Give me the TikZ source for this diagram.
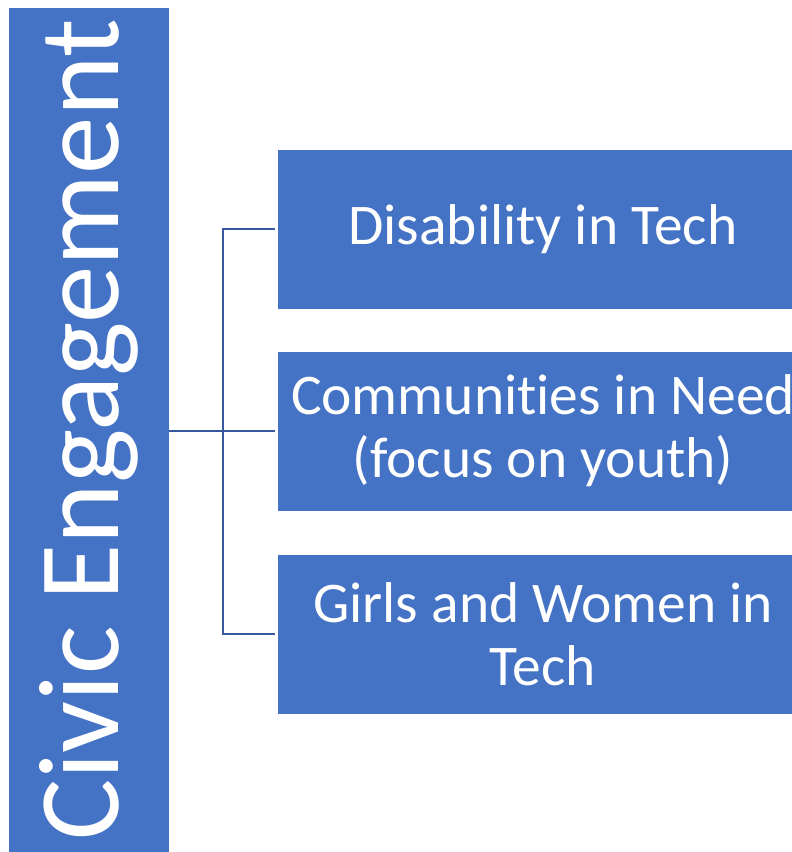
\documentclass[tikz,border=0pt]{standalone}
\usepackage{fontspec}
\setmainfont[Ligatures=NoCommon]{Carlito}
\usepackage{tikz}
\usetikzlibrary{positioning}

\definecolor{boxblue}{RGB}{68,114,196}
\definecolor{lineblue}{RGB}{55,88,158}

\begin{document}
\begin{tikzpicture}[x=1pt, y=-1pt]
        \tikzstyle{every node}=[fill=boxblue, text=white, inner sep=0pt]
        \tikzstyle{topic}=[minimum width=530pt, minimum height=159pt, align=center,
            font=\fontsize{57.5}{63}\selectfont]
        \tikzstyle{link}=[draw=lineblue, line width=2.2pt, shorten >=3pt]

        \clip (0,0) rectangle (792,852);

        \node   (civic)  [rotate=90, minimum width=844pt, minimum height=160pt,
            font=\fontsize{115}{124}\selectfont] at (89,430) {Civic Engagement};

        \node   (disab)  [topic] at (543,229) {Disability in Tech};
        \node   (need)   [topic] at (543,431) {Communities in Need\\(focus on youth)};
        \node   (girls)  [topic] at (543,634) {Girls and Women in\\Tech};

        \coordinate (hub) at (223,431);

        \draw[link] (civic.south |- need.west) -- (need.west);
        \draw[link] (hub) |- (disab.west);
        \draw[link] (hub) |- (girls.west);

    \end{tikzpicture}
\end{document}
